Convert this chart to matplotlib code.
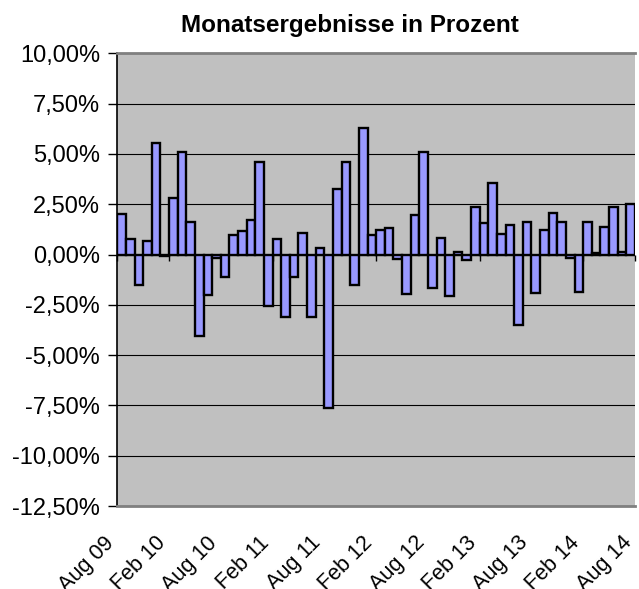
import numpy as np
import matplotlib
matplotlib.use("Agg")
import matplotlib.pyplot as plt
from matplotlib.transforms import ScaledTranslation

# ---- data ----
title = "Monatsergebnisse in Prozent"
returns_pct = [2.00, 0.78, -1.50, 0.66, 5.56, -0.06, 2.81, 5.07, 1.61, -4.04,
               -2.03, -0.15, -1.13, 0.95, 1.16, 1.73, 4.62, -2.57, 0.75, -3.10,
               -1.13, 1.08, -3.10, 0.30, -7.64, 3.24, 4.60, -1.50, 6.31, 0.95,
               1.21, 1.30, -0.20, -1.96, 1.96, 5.07, -1.68, 0.80, -2.04, 0.10,
               -0.25, 2.36, 1.58, 3.54, 1.00, 1.45, -3.49, 1.63, -1.91, 1.20,
               2.08, 1.61, -0.15, -1.88, 1.64, 0.07, 1.38, 2.36, 0.10, 2.51]
tick_labels = ["Aug 09", "Feb 10", "Aug 10", "Feb 11", "Aug 11", "Feb 12",
               "Aug 12", "Feb 13", "Aug 13", "Feb 14", "Aug 14"]
y_ticks = [10.0, 7.5, 5.0, 2.5, 0.0, -2.5, -5.0, -7.5, -10.0, -12.5]

plt.rcParams['font.family'] = ['Liberation Sans', 'DejaVu Sans']

W, H = 639, 589
fig = plt.figure(figsize=(W / 100, H / 100), dpi=100)
left, right, top, bottom = 117.3, 635.0, 53.3, 506.0
ax = fig.add_axes([left / W, (H - bottom) / H, (right - left) / W, (bottom - top) / H])
ax.set_facecolor('#C0C0C0')

n = len(returns_pct)
x = np.arange(n)
ax.bar(x, returns_pct, width=1.0, align='edge', color='#9999FF',
       edgecolor='black', linewidth=1.7, zorder=3)

ax.set_xlim(0, n)
ax.set_ylim(-12.5, 10.0)
ax.set_yticks(y_ticks)
ax.set_yticklabels([f"{v:.2f}%".replace('.', ',') for v in y_ticks])
ax.yaxis.grid(True, color='black', linewidth=0.8, zorder=1)
ax.set_axisbelow(True)

ax.tick_params(axis='y', direction='out', length=6.5, width=1, pad=6,
               labelsize=17, colors='black')

# category labels at the bottom
ax.set_xticks(np.arange(0, n + 1, 6))
ax.set_xticklabels(tick_labels, rotation=45, ha='right', va='top',
                   rotation_mode='anchor', fontsize=15.5)
ax.tick_params(axis='x', length=0, pad=19)
off = ScaledTranslation(-14 / 100, 0, fig.dpi_scale_trans)
for lab in ax.get_xticklabels():
    lab.set_transform(lab.get_transform() + off)

# zero axis line with small tick marks
sec = ax.secondary_xaxis(12.5 / 22.5)
sec.set_xticks(np.arange(0, n + 1, 6))
sec.tick_params(axis='x', direction='out', length=4, width=1, labelbottom=False,
                labeltop=False, bottom=True, top=False)
sec.spines['bottom'].set_linewidth(2.2)
sec.spines['bottom'].set_color('black')
sec.spines['top'].set_visible(False)
sec.xaxis.set_ticks_position('bottom')
sec.set_xticklabels([])

for s in ['top', 'bottom']:
    ax.spines[s].set_color('#808080')
    ax.spines[s].set_linewidth(2)
ax.spines['left'].set_color('black')
ax.spines['left'].set_linewidth(1.2)
ax.spines['right'].set_visible(False)

fig.text(349.5 / W, (H - 31.7) / H, title, ha='center', va='baseline',
         fontsize=17.5, fontweight='bold')

fig.savefig('out.png', dpi=100)
